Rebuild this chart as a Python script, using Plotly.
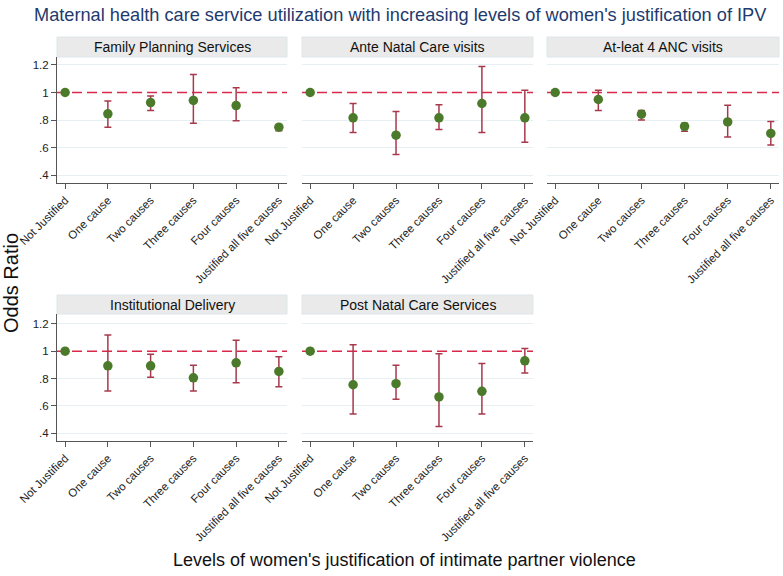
import plotly.graph_objects as go

categories = ["Not Justified", "One cause", "Two causes", "Three causes",
              "Four causes", "Justified all five causes"]
panel_titles = ["Family Planning Services", "Ante Natal Care visits", "At-leat 4 ANC visits",
                "Institutional Delivery", "Post Natal Care Services"]

fp_or = [1.0, 0.845, 0.927, 0.942, 0.905, 0.748]
fp_lo = [None, 0.748, 0.869, 0.777, 0.794, 0.721]
fp_hi = [None, 0.939, 0.975, 1.131, 1.034, 0.760]

anc_or = [1.0, 0.816, 0.690, 0.816, 0.920, 0.816]
anc_lo = [None, 0.709, 0.549, 0.731, 0.709, 0.639]
anc_hi = [None, 0.920, 0.862, 0.910, 1.189, 1.017]

anc4_or = [1.0, 0.949, 0.842, 0.753, 0.786, 0.702]
anc4_lo = [None, 0.869, 0.800, 0.718, 0.677, 0.619]
anc4_hi = [None, 1.017, 0.869, 0.777, 0.908, 0.789]

inst_or = [1.0, 0.893, 0.893, 0.806, 0.915, 0.852]
inst_lo = [None, 0.709, 0.809, 0.709, 0.770, 0.741]
inst_hi = [None, 1.119, 0.978, 0.898, 1.080, 0.959]

pnc_or = [1.0, 0.755, 0.763, 0.666, 0.707, 0.930]
pnc_lo = [None, 0.542, 0.649, 0.450, 0.542, 0.840]
pnc_hi = [None, 1.048, 0.898, 0.981, 0.910, 1.019]

series = [(fp_or, fp_lo, fp_hi), (anc_or, anc_lo, anc_hi), (anc4_or, anc4_lo, anc4_hi),
          (inst_or, inst_lo, inst_hi), (pnc_or, pnc_lo, pnc_hi)]

ytickvals = [0.4, 0.6, 0.8, 1.0, 1.2]
yticktext = [".4", ".6", ".8", "1", "1.2"]
grid_vals = [0.4, 0.6, 0.8, 1.2]
ref_value = 1.0

W, H = 783, 576
col_px = [(57, 287), (302, 533), (547, 779)]
row_px = [(57, 183), (314, 441)]
strip_px = [(37, 57), (295, 314)]
yranges = [[0.342, 1.258], [0.344, 1.272]]

FONT = "Liberation Sans, Arial, Helvetica, sans-serif"
MARK = "#4b7a2b"
ERR = "#a63a4c"
REF = "#d8294a"
AX = "#555555"

fig = go.Figure()
layout = dict(
    width=W, height=H, margin=dict(l=0, r=0, t=0, b=0, autoexpand=False),
    paper_bgcolor="white", plot_bgcolor="white", showlegend=False,
    font=dict(family=FONT, color="#222222"),
)
shapes = []
annotations = []

for i, (orv, lo, hi) in enumerate(series):
    r, c = divmod(i, 3)
    k = "" if i == 0 else str(i + 1)
    xa, ya = "x" + k, "y" + k
    plus = [None if h is None else h - o for h, o in zip(hi, orv)]
    minus = [None if l is None else o - l for l, o in zip(lo, orv)]
    fig.add_trace(go.Scatter(
        x=categories, y=orv, mode="markers", xaxis=xa, yaxis=ya,
        marker=dict(color=MARK, size=9.5),
        error_y=dict(type="data", symmetric=False, array=plus, arrayminus=minus,
                     color=ERR, thickness=1.5, width=3.5),
    ))
    x0, x1 = col_px[c]
    y0, y1 = row_px[r]
    layout["xaxis" + k] = dict(
        domain=[x0 / W, x1 / W], anchor=ya, type="category",
        categoryorder="array", categoryarray=categories, automargin=False,
        range=[-0.19, 5.19], showgrid=False, zeroline=False,
        showline=True, linecolor=AX, linewidth=1,
        ticks="outside", ticklen=5, tickcolor=AX, tickangle=-45,
        tickfont=dict(size=11.5, color="#222222"),
    )
    layout["yaxis" + k] = dict(
        domain=[1 - y1 / H, 1 - y0 / H], anchor=xa, range=yranges[r], automargin=False,
        tickvals=ytickvals, ticktext=yticktext,
        showgrid=False, zeroline=False,
        minor=dict(tickvals=grid_vals, showgrid=True, gridcolor="#e6eff2", gridwidth=1, ticks=""),
        showline=(c == 0), linecolor=AX, linewidth=1,
        ticks="outside" if c == 0 else "", ticklen=5, tickcolor=AX,
        showticklabels=(c == 0), tickfont=dict(size=11.5, color="#222222"),
    )
    shapes.append(dict(type="line", xref=xa + " domain", yref=ya, x0=0, x1=1,
                       y0=ref_value, y1=ref_value,
                       line=dict(color=REF, width=1.5, dash="10px,5px"), layer="below"))
    s0, s1 = strip_px[r]
    shapes.append(dict(type="rect", xref="paper", yref="paper",
                       x0=x0 / W, x1=x1 / W, y0=1 - s1 / H, y1=1 - s0 / H,
                       fillcolor="#eaeaea", line=dict(color="#dde6ea", width=1)))
    annotations.append(dict(text=panel_titles[i], xref="paper", yref="paper",
                            x=(x0 + x1) / 2 / W, y=1 - (s0 + s1) / 2 / H,
                            showarrow=False, font=dict(size=14, color="#111111"),
                            xanchor="center", yanchor="middle"))

annotations.append(dict(text="Maternal health care service utilization with increasing levels of women's justification of IPV",
                        xref="paper", yref="paper", x=400 / W, y=1 - 15 / H, showarrow=False,
                        font=dict(size=18.2, color="#1e3a6e"), xanchor="center", yanchor="middle"))
annotations.append(dict(text="Odds Ratio", xref="paper", yref="paper", x=11 / W, y=1 - 283 / H,
                        showarrow=False, textangle=-90, font=dict(size=20, color="#111111"),
                        xanchor="center", yanchor="middle"))
annotations.append(dict(text="Levels of women's justification of intimate partner violence",
                        xref="paper", yref="paper", x=404 / W, y=1 - 560 / H, showarrow=False,
                        font=dict(size=18, color="#111111"), xanchor="center", yanchor="middle"))

layout["shapes"] = shapes
layout["annotations"] = annotations
fig.update_layout(**layout)
fig.write_html("out.html", config={"displayModeBar": False},
               post_script="document.body.style.margin='0';")
